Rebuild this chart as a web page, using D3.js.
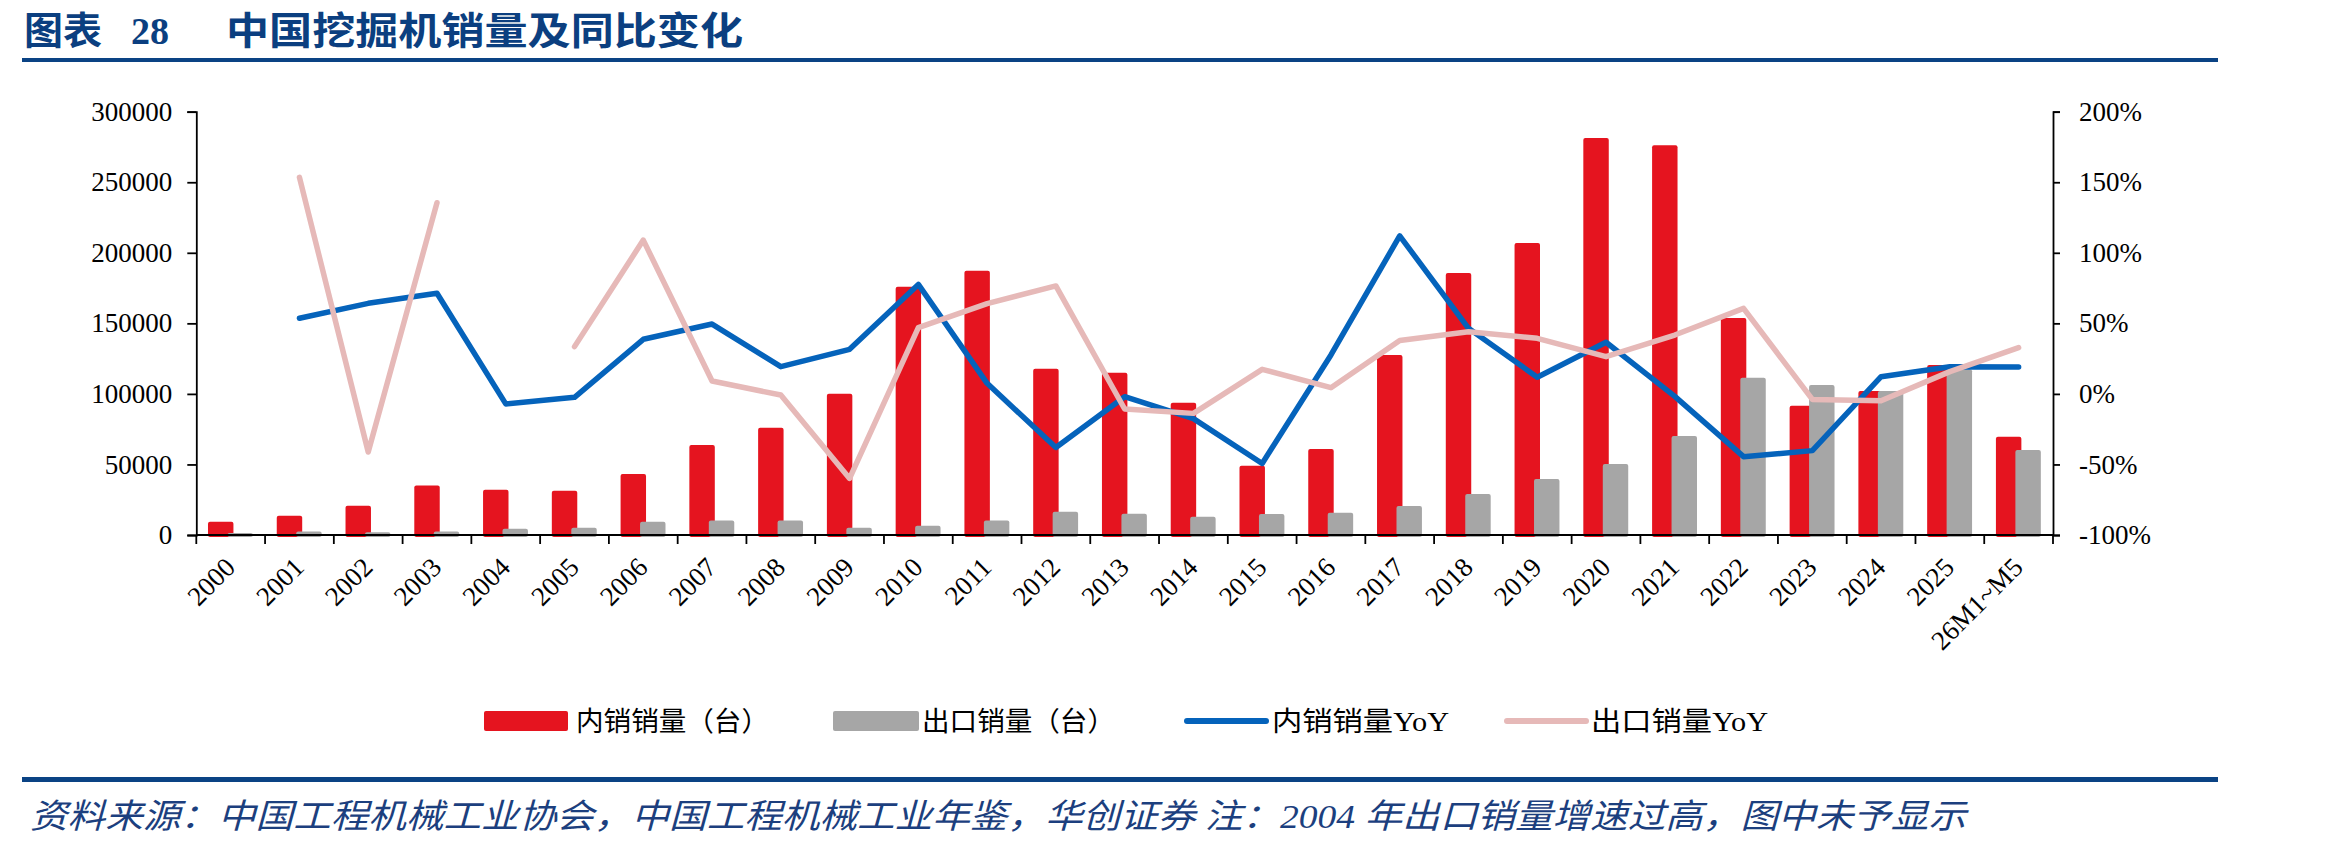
<!DOCTYPE html>
<html>
<head>
<meta charset="utf-8">
<script src="https://cdn.jsdelivr.net/npm/d3@7"></script>
<style>
  body { margin: 0; background: #fff; }
  svg { display: block; }
</style>
</head>
<body>
<script>
// data
var categories = ["2000","2001","2002","2003","2004","2005","2006","2007","2008","2009",
  "2010","2011","2012","2013","2014","2015","2016","2017","2018","2019",
  "2020","2021","2022","2023","2024","2025","26M1~M5"];

var domesticSales = [9400,13700,20800,35000,32100,31400,43200,63800,76000,100100,
  176000,187300,117900,115000,93800,49100,60900,127500,185600,206900,
  281300,276300,153800,91600,102000,120500,69700];

var exportSales = [1500,2400,1900,2400,4500,5200,9400,10200,10200,5200,
  6600,10200,16500,15100,13000,14900,15800,20500,29000,39700,
  50300,70100,111500,106300,102000,117400,60200];

// YoY in %, null = not shown
var domesticYoY = [null,53.6,64.2,71.3,-7.1,-2.4,38.7,49.5,19.3,31.6,
  77.6,7.5,-38,-2,-17.5,-49.3,27.6,112,46.5,11.8,
  36.6,-1.8,-44.5,-40.2,12.2,19.3,19.1];

var exportYoY = [null,153.5,-41.2,135.5,null,33.5,109,9.1,-0.8,-59.9,
  47,64,76.5,-10.7,-13.8,17.4,4.4,37.8,44.1,39.4,
  26.4,41.7,60.6,-3.9,-4.8,15.8,32.8];

var leftTicks = [0,50000,100000,150000,200000,250000,300000];
var rightTicks = [-100,-50,0,50,100,150,200];

var W = 2327, H = 848;
var serif = "'Liberation Serif','Times New Roman','Noto Sans CJK SC',serif";
var navy = "#0b3f80";

var svg = d3.select("body").append("svg")
  .attr("width", W).attr("height", H);

// header / footer
svg.append("text").attr("x", 24).attr("y", 44)
  .attr("font-family", "'Noto Sans CJK SC'").attr("font-weight", "bold")
  .attr("font-size", 37.5).attr("fill", navy)
  .attr("textLength", 78).attr("lengthAdjust", "spacingAndGlyphs").text("图表");
svg.append("text").attr("x", 131).attr("y", 44)
  .attr("font-family", serif).attr("font-weight", "bold")
  .attr("font-size", 38).attr("fill", navy).text("28");
svg.append("text").attr("x", 226).attr("y", 44)
  .attr("font-family", "'Noto Sans CJK SC'").attr("font-weight", "bold")
  .attr("font-size", 37.5).attr("fill", navy)
  .attr("textLength", 517).attr("lengthAdjust", "spacingAndGlyphs")
  .text("中国挖掘机销量及同比变化");
svg.append("rect").attr("x", 22).attr("y", 58).attr("width", 2196).attr("height", 4).attr("fill", "#0a4384");
svg.append("rect").attr("x", 22).attr("y", 777).attr("width", 2196).attr("height", 5).attr("fill", "#0a4384");
svg.append("text").attr("x", 30).attr("y", 828)
  .attr("font-family", "'Liberation Serif','Noto Sans CJK SC',serif")
  .attr("font-style", "italic").attr("font-size", 34).attr("fill", "#1c3f7e")
  .attr("textLength", 1936).attr("lengthAdjust", "spacingAndGlyphs")
  .text("资料来源：中国工程机械工业协会，中国工程机械工业年鉴，华创证券 注：2004 年出口销量增速过高，图中未予显示");

// scales
var x = d3.scaleBand().domain(categories).range([196.3, 2053]).padding(0);
var y = d3.scaleLinear().domain([0, 300000]).range([535, 111.7]);
var y2 = d3.scaleLinear().domain([-100, 200]).range([535, 111.7]);

var bw = x.bandwidth();
var barW = bw * 0.37;

var g = svg.append("g");

// bars
g.selectAll("rect.dom").data(domesticSales).enter().append("rect")
  .attr("class", "dom")
  .attr("x", function(d, i) { return x(categories[i]) + bw / 2 - bw * 0.145 - barW / 2; })
  .attr("y", function(d) { return y(d); })
  .attr("width", barW)
  .attr("height", function(d) { return y(0) - y(d) + 2; })
  .attr("rx", 2)
  .attr("fill", "#e5141f");

g.selectAll("rect.exp").data(exportSales).enter().append("rect")
  .attr("class", "exp")
  .attr("x", function(d, i) { return x(categories[i]) + bw / 2 + bw * 0.138 - barW / 2; })
  .attr("y", function(d) { return y(d); })
  .attr("width", barW)
  .attr("height", function(d) { return y(0) - y(d) + 2; })
  .attr("rx", 2)
  .attr("fill", "#a6a6a6");

// lines
var line = d3.line()
  .defined(function(d) { return d != null; })
  .x(function(d, i) { return x(categories[i]) + bw / 2; })
  .y(function(d) { return y2(d); });

g.append("path").datum(domesticYoY)
  .attr("d", line).attr("fill", "none")
  .attr("stroke", "#0563bb").attr("stroke-width", 5.5)
  .attr("stroke-linecap", "round").attr("stroke-linejoin", "round");

g.append("path").datum(exportYoY)
  .attr("d", line).attr("fill", "none")
  .attr("stroke", "#e6b9b8").attr("stroke-width", 5.5)
  .attr("stroke-linecap", "round").attr("stroke-linejoin", "round");

// axes
var leftAxis = d3.axisLeft(y).tickValues(leftTicks).tickSize(9).tickPadding(15)
  .tickFormat(d3.format("d"));
var rightAxis = d3.axisRight(y2).tickValues(rightTicks).tickSize(7).tickPadding(19)
  .tickFormat(function(d) { return d + "%"; });

function styleAxis(sel) {
  sel.selectAll("path.domain").attr("stroke", "#000").attr("stroke-width", 1.8);
  sel.selectAll(".tick line").attr("stroke", "#000").attr("stroke-width", 1.8);
  sel.selectAll("text").attr("font-family", serif).attr("font-size", 27).attr("fill", "#000");
}

svg.append("g").attr("transform", "translate(196.3,0)").call(leftAxis).call(styleAxis);
svg.append("g").attr("transform", "translate(2053,0)").call(rightAxis).call(styleAxis);

// category axis, ticks sit between categories
var xg = svg.append("g");
xg.append("line").attr("x1", 196.3).attr("x2", 2053)
  .attr("y1", y(0)).attr("y2", y(0)).attr("stroke", "#000").attr("stroke-width", 1.8);
var edges = categories.map(function(c) { return x(c); }).concat([x.range()[1]]);
xg.selectAll("line.tk").data(edges).enter().append("line")
  .attr("class", "tk")
  .attr("x1", function(d) { return d; }).attr("x2", function(d) { return d; })
  .attr("y1", y(0)).attr("y2", y(0) + 9)
  .attr("stroke", "#000").attr("stroke-width", 1.8);
xg.selectAll("text").data(categories).enter().append("text")
  .attr("transform", function(d) { return "translate(" + (x(d) + bw / 2 + 6) + ",569) rotate(-45)"; })
  .attr("text-anchor", "end")
  .attr("font-family", serif).attr("font-size", 27).attr("fill", "#000")
  .text(function(d) { return d; });

// legend
var legend = [
  { label: "内销销量（台）", type: "rect", color: "#e5141f", x: 484, w: 84, tx: 576, tw: 193 },
  { label: "出口销量（台）", type: "rect", color: "#a6a6a6", x: 833, w: 86, tx: 922, tw: 193 },
  { label: "内销销量YoY", type: "line", color: "#0563bb", x: 1184, w: 85, tx: 1272, tw: 177 },
  { label: "出口销量YoY", type: "line", color: "#e6b9b8", x: 1504, w: 85, tx: 1591, tw: 177 }
];
var lg = svg.append("g");
legend.forEach(function(l) {
  if (l.type == "rect") {
    lg.append("rect").attr("x", l.x).attr("y", 711).attr("width", l.w).attr("height", 20)
      .attr("rx", 2).attr("fill", l.color);
  } else {
    lg.append("line").attr("x1", l.x + 3).attr("x2", l.x + l.w - 3)
      .attr("y1", 721).attr("y2", 721)
      .attr("stroke", l.color).attr("stroke-width", 6).attr("stroke-linecap", "round");
  }
  lg.append("text").attr("x", l.tx).attr("y", 731)
    .attr("font-family", "'Liberation Serif','Noto Sans CJK SC',serif")
    .attr("font-size", 27).attr("fill", "#000")
    .attr("textLength", l.tw).attr("lengthAdjust", "spacingAndGlyphs")
    .text(l.label);
});
</script>
</body>
</html>
